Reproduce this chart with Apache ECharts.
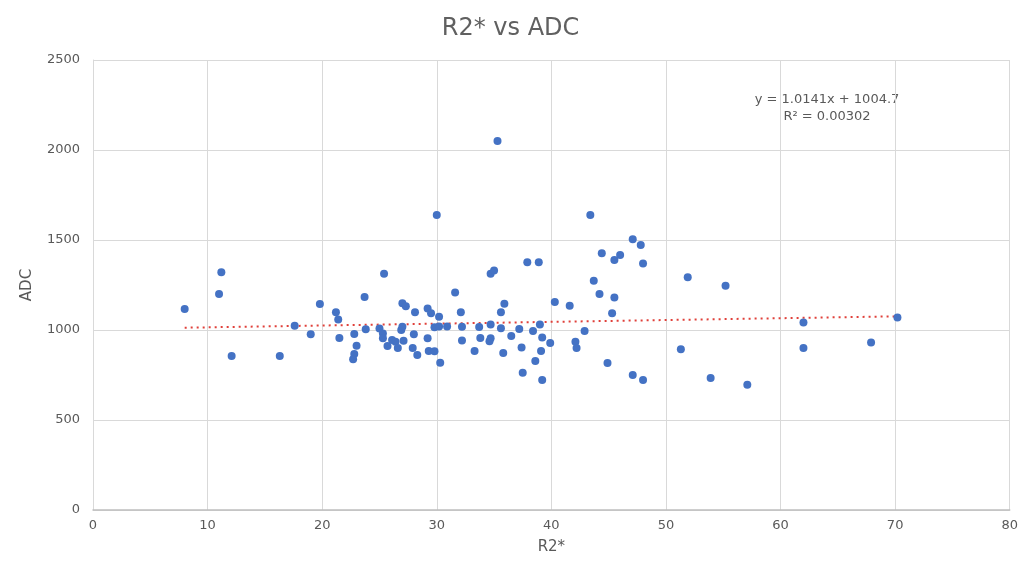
<!DOCTYPE html>
<html>
<head>
<meta charset="utf-8">
<script src="https://cdn.jsdelivr.net/npm/echarts@6/dist/echarts.min.js"></script>
<style>html,body{margin:0;padding:0;background:#fff}#c{width:1021px;height:561px}</style>
</head>
<body>
<div id="c"></div>
<script>
// R2* values (x)
const r2 = [8.0, 11.2, 11.0, 12.1, 16.3, 17.6, 19.0, 19.8, 21.2, 21.4, 21.5, 22.8, 23.0, 22.8, 22.7, 23.7, 25.4, 23.8, 25.0, 25.3,
  25.3, 25.7, 26.1, 26.4, 26.6, 26.9, 27.0, 27.1, 27.0, 27.3, 28.1, 28.0, 27.9, 28.3, 29.2, 29.5, 29.2, 29.8, 30.2, 30.9,
  30.2, 29.3, 29.8, 30.3, 30.0, 31.6, 32.1, 32.2, 32.2, 33.3, 33.7, 33.8, 34.7, 34.6, 34.7, 35.6, 35.8, 35.9, 35.6, 35.3,
  34.7, 35.0, 36.5, 37.2, 37.4, 37.5, 37.9, 38.9, 38.4, 38.6, 39.0, 39.2, 39.9, 39.1, 39.2, 40.3, 41.6, 42.1, 42.2, 42.9,
  43.4, 43.7, 44.2, 44.4, 44.9, 45.3, 45.5, 45.5, 46.0, 47.1, 47.8, 48.0, 47.1, 48.0, 51.3, 51.9, 53.9, 55.2, 57.1, 62.0,
  62.0, 67.9, 70.2];
// ADC values (y)
const adc = [1117, 1321, 1200, 855, 855, 1024, 976, 1144, 1098, 1059, 955, 978, 912, 866, 837, 1183, 1313, 1004, 1009, 981,
  954, 911, 944, 935, 900, 1000, 1018, 940, 1148, 1132, 1098, 977, 900, 861, 1120, 1093, 954, 1015, 1020, 1020,
  1074, 884, 882, 818, 1639, 1209, 1098, 1018, 942, 883, 1016, 956, 954, 937, 1030, 1010, 872, 1146, 1098, 2050,
  1313, 1330, 967, 1005, 903, 762, 1376, 1376, 994, 828, 1031, 958, 928, 883, 722, 1155, 1135, 935, 900, 994,
  1639, 1274, 1200, 1426, 817, 1093, 1181, 1389, 1417, 1504, 1472, 1370, 750, 722, 893, 1293, 733, 1246, 696, 1041,
  900, 930, 1070];
// Trendline coefficients (as printed on the chart)
const slope = 1.0141;
const intercept = 1004.7;
const eqLabel = 'y = 1.0141x + 1004.7';
const r2Label = 'R\u00b2 = 0.00302';
const xTicks = [0, 10, 20, 30, 40, 50, 60, 70, 80];
const yTicks = [0, 500, 1000, 1500, 2000, 2500];

const points = r2.map((x, i) => [x, adc[i]]);
const xmin = Math.min(...r2), xmax = Math.max(...r2);
const trend = [[xmin, slope * xmin + intercept], [xmax, slope * xmax + intercept]];

const FONT = 'DejaVu Sans';
const TXT = '#595959';
const chart = echarts.init(document.getElementById('c'));
chart.setOption({
  animation: false,
  backgroundColor: '#fff',
  title: {
    text: 'R2* vs ADC', left: 'center', top: 12,
    textStyle: { fontFamily: FONT, fontSize: 24, fontWeight: 'normal', color: '#606060' }
  },
  grid: { left: 93, right: 9, top: 60, bottom: 51 },
  xAxis: {
    type: 'value', min: xTicks[0], max: xTicks[xTicks.length - 1], interval: 10,
    name: 'R2*', nameLocation: 'middle', nameGap: 30,
    nameTextStyle: { fontFamily: FONT, fontSize: 15, color: TXT },
    axisLine: { show: true, lineStyle: { color: '#bfbfbf', width: 1.5 } },
    axisTick: { show: false },
    axisLabel: { fontFamily: FONT, fontSize: 13, color: TXT, margin: 9, formatter: v => String(v) },
    splitLine: { show: true, lineStyle: { color: '#d9d9d9', width: 1 } }
  },
  yAxis: {
    type: 'value', min: yTicks[0], max: yTicks[yTicks.length - 1], interval: 500,
    name: 'ADC', nameLocation: 'middle', nameGap: 58,
    nameTextStyle: { fontFamily: FONT, fontSize: 15, color: TXT },
    axisLine: { show: true, lineStyle: { color: '#d9d9d9', width: 1 } },
    axisTick: { show: false },
    axisLabel: { fontFamily: FONT, fontSize: 13, color: TXT, margin: 13, formatter: v => String(v) },
    splitLine: { show: true, lineStyle: { color: '#d9d9d9', width: 1 } }
  },
  series: [
    {
      type: 'line', data: trend, showSymbol: false, symbol: 'none',
      lineStyle: { color: '#e0403a', width: 2, type: [2, 4] }, z: 1, silent: true
    },
    {
      type: 'scatter', data: points, symbolSize: 8,
      itemStyle: { color: '#4472C4', opacity: 1 }, z: 2
    }
  ],
  graphic: [
    {
      type: 'text', x: 827, y: 91,
      style: { text: eqLabel + '\n' + r2Label, fontFamily: FONT, fontSize: 13, fill: TXT, align: 'center', verticalAlign: 'top', lineHeight: 17 }
    }
  ]
});
</script>
</body>
</html>
